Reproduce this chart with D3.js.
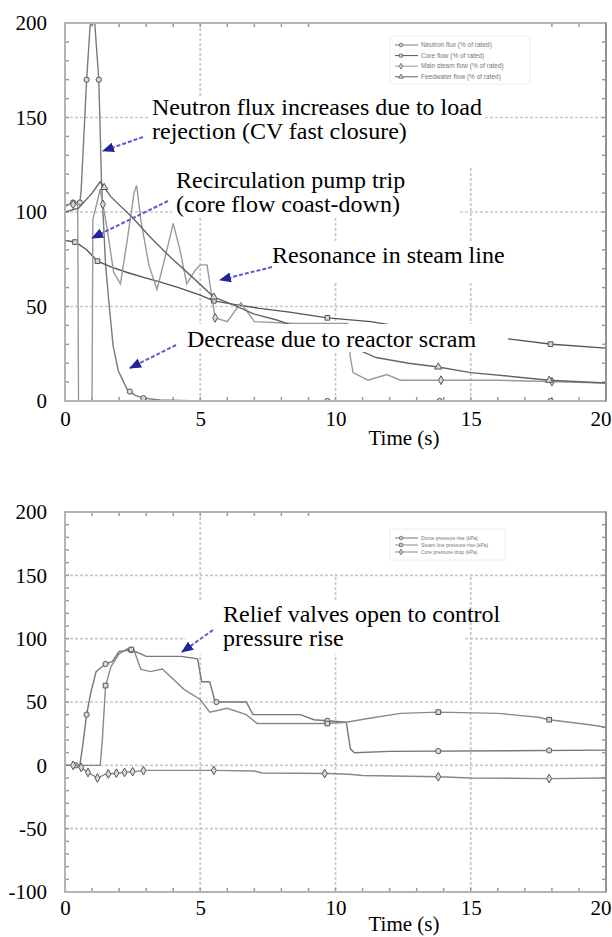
<!DOCTYPE html>
<html>
<head>
<meta charset="utf-8">
<script src="https://cdn.jsdelivr.net/npm/d3@7"></script>
<style>
  body { margin: 0; background: #fff; }
  svg { display: block; }
</style>
</head>
<body>
<div id="chart"></div>
<script>
// ---- data ----
var xTicks = [0, 5, 10, 15, 20];
var topTicks = [0, 50, 100, 150, 200];
var botTicks = [-100, -50, 0, 50, 100, 150, 200];
var xTitle = "Time (s)";

// top panel, [time, value]
var neutronFlux = [[0,103],[0.3,105],[0.55,105],[0.6,112],[0.8,170],[0.93,199],[1.1,200],[1.25,170],[1.35,116],
  [1.5,72],[1.65,48],[1.78,29],[1.97,16],[2.3,6],[2.6,3],[2.9,1.5],[3.5,0.5],[5,0],[20,0]];
var coreFlow = [[0,85],[0.4,84],[0.8,80],[1.2,74],[1.7,71],[2.3,68],[3,65],[3.5,63],[4.2,60],[5,56],[5.5,53],
  [6.3,51],[7.2,49],[8.3,47],[9.7,44],[11.3,42],[13,38],[14.5,35],[16.3,33],[18,30],[20,28]];
var steamFlow = [[0,104],[0.47,104],[0.5,0],[1.0,0],[1.03,96],[1.3,112],[1.55,92],[1.8,68],[2.05,62],[2.3,85],
  [2.55,110],[2.65,114],[2.8,96],[3.1,72],[3.4,59],[3.7,76],[4.0,94],[4.25,80],[4.5,62],[4.8,69],[5.0,72],
  [5.25,72],[5.55,44],[6.0,42],[6.5,52],[7.0,42],[8.5,41],[10.45,41],[10.55,23],[10.65,15],[11.2,11],
  [11.9,14],[12.4,11],[16,11],[20,9.5]];
var feedFlow = [[0,100],[0.5,102],[1.0,110],[1.3,116],[1.7,108],[2.5,97],[3.2,86],[3.9,76],[4.6,67],[5.5,55],
  [6.2,51],[7.0,46],[7.8,43],[8.8,38],[9.8,33],[10.7,28],[11.5,23],[12.7,20],[13.8,18],[15,15],[16.5,13],
  [17.9,11],[20,9.5]];

// bottom panel
var domePress = [[0,0],[0.55,0],[0.65,15],[0.8,40],[0.95,57],[1.15,74],[1.5,80],[1.75,82],[2.0,90],[2.45,91],
  [2.8,88],[3.0,86],[4.3,86],[4.9,84],[5.05,66],[5.35,66],[5.55,50],[6.7,50],[6.95,40],[8.7,40],[9.2,36],
  [10.4,34],[10.55,13],[10.7,10],[12,11],[20,12]];
var linePress = [[0,0],[1.3,0],[1.38,20],[1.5,63],[1.7,78],[2.0,88],[2.3,92],[2.55,91],[2.8,76],[3.15,74],
  [3.6,76],[4.4,60],[5.0,52],[5.35,42],[6.0,45],[6.7,40],[7.1,33],[9.7,33],[10.4,34],[11.2,37],[12.4,41],
  [13.8,42],[16,41],[17.5,38],[17.9,36],[19.4,32],[20,30]];
var corePress = [[0,0],[0.5,0],[0.8,-5],[1.2,-10],[1.5,-7],[2.0,-6],[3.0,-4],[5.5,-4],[7.0,-4.5],[7.3,-6],
  [9.7,-6.5],[10.5,-7],[11,-8],[13.8,-9],[15,-10],[17.9,-10.5],[20,-10]];

// times where the plot symbols sit
var fluxMarks = [0.3, 0.55, 0.8, 1.25, 2.4, 2.9, 9.7, 13.85, 17.95];
var coreMarks = [0.37, 1.2, 5.5, 9.7, 13.85, 17.95];
var steamMarks = [0.3, 1.4, 5.55, 13.9, 18];
var feedMarks = [1.45, 5.5, 9.7, 13.8, 17.9];
var domeMarks = [0.4, 0.8, 1.5, 2.45, 5.6, 9.7, 13.8, 17.9];
var lineMarks = [1.5, 2.45, 9.7, 13.8, 17.9];
var coreMarksB = [0.3, 0.6, 0.85, 1.2, 1.6, 1.9, 2.2, 2.5, 2.9, 5.5, 9.6, 13.8, 17.9];

// legend text (very small in the original)
var topLegend = ["Neutron flux (% of rated)", "Core flow (% of rated)", "Main steam flow (% of rated)", "Feedwater flow (% of rated)"];
var botLegend = ["Dome pressure rise (kPa)", "Steam line pressure rise (kPa)", "Core pressure drop (kPa)"];

// annotation text
var noteFlux = ["Neutron flux increases due to load", "rejection (CV fast closure)"];
var notePump = ["Recirculation pump trip", "(core flow coast-down)"];
var noteRes = ["Resonance in steam line"];
var noteScram = ["Decrease due to reactor scram"];
var noteRelief = ["Relief valves open to control", "pressure rise"];

// ---- drawing ----
var serif = "'Liberation Serif', 'Times New Roman', serif";
var svg = d3.select("#chart").append("svg")
  .attr("width", 612).attr("height", 937);
svg.append("rect").attr("width", 612).attr("height", 937).attr("fill", "#fff");

var defs = svg.append("defs");
defs.append("marker")
  .attr("id", "head")
  .attr("markerUnits", "userSpaceOnUse")
  .attr("viewBox", "0 0 12 10")
  .attr("refX", 11).attr("refY", 5)
  .attr("markerWidth", 12).attr("markerHeight", 10)
  .attr("orient", "auto")
  .append("path").attr("d", "M0,0 L12,5 L0,10 Z").attr("fill", "#24249a");

var x = d3.scaleLinear().domain([0, 20]).range([65, 606]);

// value of a series at time t (for placing symbols on the line)
var bis = d3.bisector(function(d) { return d[0]; }).left;
function valueAt(s, t) {
  var i = bis(s, t);
  if (i <= 0) return s[0][1];
  if (i >= s.length) return s[s.length - 1][1];
  var a = s[i - 1], b = s[i];
  return a[1] + (b[1] - a[1]) * (t - a[0]) / (b[0] - a[0]);
}

function panel(id, y, yTicks, series, masks, notes, legend, tickY, titleY) {
  var g = svg.append("g");
  var top = y.range()[1], bot = y.range()[0];
  var left = x.range()[0], right = x.range()[1];
  var y0 = y.domain()[0], y1 = y.domain()[1];

  defs.append("clipPath").attr("id", "clip" + id)
    .append("rect").attr("x", left).attr("y", top - 1).attr("width", right - left).attr("height", bot - top + 2);

  // dashed grid
  g.append("g").selectAll("line").data(xTicks.slice(1, -1)).enter().append("line")
    .attr("x1", x).attr("x2", x).attr("y1", top).attr("y2", bot)
    .style("stroke", "#c9c9c9").style("stroke-width", 1.8).style("stroke-dasharray", "3,2");
  g.append("g").selectAll("line").data(yTicks.slice(1, -1)).enter().append("line")
    .attr("y1", y).attr("y2", y).attr("x1", left).attr("x2", right)
    .style("stroke", "#c9c9c9").style("stroke-width", 1.6).style("stroke-dasharray", "3,2");

  // small inside ticks
  var minorX = d3.range(1, 20);
  var minorY = d3.range(y0 + 10, y1, 10);
  var tk = g.append("g").style("stroke", "#9a9a9a").style("stroke-width", 1.5);
  tk.selectAll(".mb").data(minorX).enter().append("line")
    .attr("x1", x).attr("x2", x).attr("y1", bot).attr("y2", bot - 4);
  tk.selectAll(".mt").data(minorX).enter().append("line")
    .attr("x1", x).attr("x2", x).attr("y1", top).attr("y2", top + 4);
  tk.selectAll(".ml").data(minorY).enter().append("line")
    .attr("y1", y).attr("y2", y).attr("x1", left).attr("x2", left + 4);
  tk.selectAll(".mr").data(minorY).enter().append("line")
    .attr("y1", y).attr("y2", y).attr("x1", right).attr("x2", right - 4);

  // series lines
  var line = d3.line().x(function(d) { return x(d[0]); }).y(function(d) { return y(d[1]); });
  var lines = g.append("g").attr("clip-path", "url(#clip" + id + ")");
  series.forEach(function(s) {
    lines.append("path").attr("d", line(s.data))
      .style("fill", "none").style("stroke", s.color).style("stroke-width", 1.4);
    lines.selectAll(null).data(s.marks).enter().append("path")
      .attr("transform", function(t) { return "translate(" + x(t) + "," + y(valueAt(s.data, t)) + ")"; })
      .attr("d", d3.symbol().type(s.sym).size(22))
      .style("fill", "#d8d8d8").style("stroke", "#555").style("stroke-width", 1);
  });

  // white boxes behind the notes and the legend
  g.append("g").selectAll("rect").data(masks).enter().append("rect")
    .attr("x", function(d) { return d[0]; }).attr("y", function(d) { return d[1]; })
    .attr("width", function(d) { return d[2] - d[0]; }).attr("height", function(d) { return d[3] - d[1]; })
    .attr("fill", "#fff");

  // notes + arrows
  notes.forEach(function(n) {
    var t = g.append("text").attr("x", n.x).attr("y", n.y)
      .style("font-family", serif).style("font-size", "24px").style("fill", "#000");
    n.lines.forEach(function(l, i) {
      t.append("tspan").attr("x", n.x).attr("dy", i == 0 ? 0 : 24).text(l);
    });
    g.append("line").attr("x1", n.arrow[0]).attr("y1", n.arrow[1]).attr("x2", n.arrow[2]).attr("y2", n.arrow[3])
      .style("stroke", "#5b5bd6").style("stroke-width", 2).style("stroke-dasharray", "4,2")
      .attr("marker-end", "url(#head)");
  });

  // legend
  var lg = g.append("g");
  lg.append("rect").attr("x", legend.x).attr("y", legend.y).attr("width", legend.w).attr("height", legend.h)
    .attr("fill", "#fff").attr("stroke", "#eee");
  legend.labels.forEach(function(lab, i) {
    var ly = legend.y + legend.pad + i * legend.step;
    lg.append("line").attr("x1", legend.x + 5).attr("x2", legend.x + 28).attr("y1", ly).attr("y2", ly)
      .style("stroke", series[i].color).style("stroke-width", 1);
    lg.append("path").attr("transform", "translate(" + (legend.x + 11) + "," + ly + ")")
      .attr("d", d3.symbol().type(series[i].sym).size(10))
      .style("fill", "#ccc").style("stroke", "#666").style("stroke-width", 0.8);
    lg.append("text").attr("x", legend.x + 31).attr("y", ly).attr("dy", "0.33em")
      .style("font-family", "Arial, 'Liberation Sans', sans-serif").style("font-size", legend.fs + "px")
      .style("fill", "#777").text(lab);
  });

  // frame
  g.append("rect").attr("x", left).attr("y", top).attr("width", right - left).attr("height", bot - top)
    .style("fill", "none").style("stroke", "#b3b3b3").style("stroke-width", 2);
  g.append("line").attr("x1", right).attr("x2", right).attr("y1", top).attr("y2", bot)
    .style("stroke", "#8a8a8a").style("stroke-width", 1.6);

  // axes labels (plain hyphen for negatives, like the original)
  var ax = g.append("g").attr("transform", "translate(0," + tickY + ")")
    .call(d3.axisBottom(x).tickValues(xTicks).tickSize(0).tickPadding(0).tickFormat(String));
  ax.select(".domain").remove();
  ax.selectAll("text").attr("y", 0).attr("dy", null)
    .style("font-family", serif).style("font-size", "21px").style("fill", "#000");
  // last label sits at the right edge of the page, keep it inside
  ax.selectAll(".tick:last-of-type text").attr("text-anchor", "end").attr("x", 611 - x(20));

  var ay = g.append("g").attr("transform", "translate(47,0)")
    .call(d3.axisLeft(y).tickValues(yTicks).tickSize(0).tickPadding(0).tickFormat(String));
  ay.select(".domain").remove();
  ay.selectAll("text").style("font-family", serif).style("font-size", "21px").style("fill", "#000");

  g.append("text").attr("x", 404).attr("y", titleY).attr("text-anchor", "middle")
    .style("font-family", serif).style("font-size", "21px").text(xTitle);
}

// top panel
var yTop = d3.scaleLinear().domain([0, 200]).range([401, 23]);
panel("a", yTop, topTicks,
  [
    {data: neutronFlux, marks: fluxMarks, color: "#7a7a7a", sym: d3.symbolCircle},
    {data: coreFlow, marks: coreMarks, color: "#555", sym: d3.symbolSquare},
    {data: steamFlow, marks: steamMarks, color: "#999", sym: d3.symbolDiamond},
    {data: feedFlow, marks: feedMarks, color: "#666", sym: d3.symbolTriangle}
  ],
  [[330, 24, 540, 116], [150, 96, 484, 166], [172, 168, 460, 218], [266, 242, 510, 282], [180, 324, 508, 352]],
  [
    {lines: noteFlux, x: 152, y: 115, arrow: [143, 137, 103, 151]},
    {lines: notePump, x: 176, y: 188, arrow: [168, 201, 92, 238]},
    {lines: noteRes, x: 272, y: 263, arrow: [272, 267, 220, 280]},
    {lines: noteScram, x: 187, y: 347, arrow: [176, 345, 130, 368]}
  ],
  {x: 390, y: 36, w: 140, h: 48, pad: 9, step: 10.6, fs: 6.5, labels: topLegend},
  426, 445);

// bottom panel
var yBot = d3.scaleLinear().domain([-100, 200]).range([892, 512]);
panel("b", yBot, botTicks,
  [
    {data: domePress, marks: domeMarks, color: "#777", sym: d3.symbolCircle},
    {data: linePress, marks: lineMarks, color: "#8a8a8a", sym: d3.symbolSquare},
    {data: corePress, marks: coreMarksB, color: "#888", sym: d3.symbolDiamond}
  ],
  [[327, 513, 583, 574], [186, 602, 465, 654]],
  [
    {lines: noteRelief, x: 223, y: 622, arrow: [213, 630, 182, 652]}
  ],
  {x: 390, y: 529, w: 115, h: 31, pad: 9, step: 7, fs: 5, labels: botLegend},
  915, 931);
</script>
</body>
</html>
